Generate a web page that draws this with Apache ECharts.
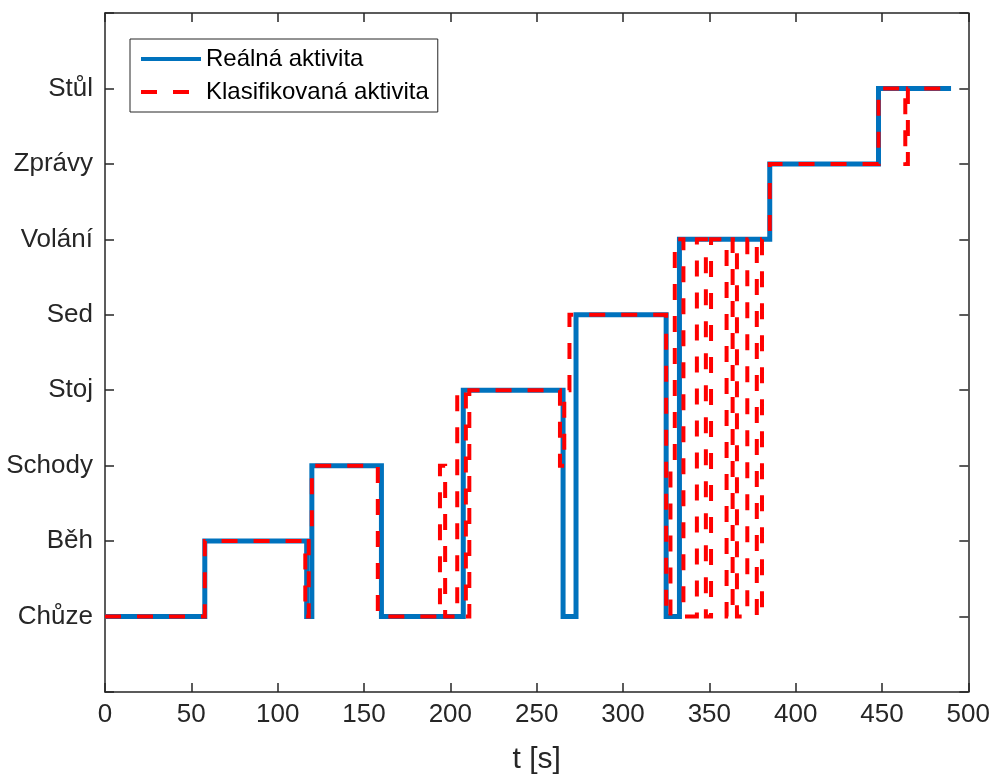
<!DOCTYPE html>
<html>
<head>
<meta charset="utf-8">
<title>Aktivity</title>
<script src="https://cdn.jsdelivr.net/npm/echarts@6/dist/echarts.min.js"></script>
<style>
  html, body { margin: 0; padding: 0; background: #fff; overflow: hidden; }
  #chart { width: 993px; height: 780px; }
</style>
</head>
<body>
<div id="chart"></div>
<script>
// activity names, index = level on the y axis
var activities = ['Chůze', 'Běh', 'Schody', 'Stoj', 'Sed', 'Volání', 'Zprávy', 'Stůl']

// real activity: time of change [s] and new level
var realTimes = [0, 57.8, 116.8, 119.8, 160.1, 207.5, 265.3, 272.8, 325, 332.7, 385, 448, 490]
var realLevels = [0, 1, 0, 2, 0, 3, 0, 4, 0, 5, 6, 7, 7]

// classified activity
var classTimes = [0, 57.8, 116, 118, 119.8, 158, 194, 197, 204, 209, 211, 263.5, 266, 269,
  325, 327.5, 330, 335, 342.8, 348, 351, 360, 363.5, 366, 372, 377.5, 380.5, 385,
  448, 463.5, 465, 490]
var classLevels = [0, 1, 0, 1, 2, 0, 2, 0, 3, 0, 3, 2, 3, 4,
  0, 2, 5, 0, 5, 0, 5, 0, 5, 0, 5, 0, 5, 6,
  7, 6, 7, 7]

var xTicks = { min: 0, max: 500, interval: 50 }

function pairs (times, levels) {
  return times.map((t, i) => [t, levels[i]])
}

var axisColor = '#262626'
var font = 'Liberation Sans, Arial, Helvetica, sans-serif'

var chart = echarts.init(document.getElementById('chart'), null, { renderer: 'canvas', width: 993, height: 780 })

var tickStyle = { show: true, inside: true, length: 9, lineStyle: { color: axisColor, width: 1.5 } }
var lineStyle = { show: true, onZero: false, lineStyle: { color: axisColor, width: 1.5 } }

chart.setOption({
  animation: false,
  backgroundColor: '#fff',
  grid: { left: 105, top: 13, width: 866, height: 692, containLabel: false },
  legend: {
    left: 130,
    top: 39,
    orient: 'vertical',
    itemWidth: 60,
    itemHeight: 14,
    itemGap: 9,
    padding: [8, 9, 8, 9],
    borderColor: axisColor,
    borderWidth: 1,
    backgroundColor: '#fff',
    itemStyle: { opacity: 0 },
    lineStyle: { width: 4 },
    textStyle: { fontFamily: font, fontSize: 24, color: '#000', lineHeight: 24 },
    data: ['Reálná aktivita', 'Klasifikovaná aktivita']
  },
  xAxis: [{
    type: 'value',
    min: xTicks.min,
    max: xTicks.max,
    interval: xTicks.interval,
    name: 't [s]',
    nameLocation: 'middle',
    nameGap: 53,
    nameTextStyle: { fontFamily: font, fontSize: 30, color: axisColor },
    axisLine: lineStyle,
    axisTick: tickStyle,
    splitLine: { show: false },
    axisLabel: { fontFamily: font, fontSize: 26, color: axisColor, margin: 10 }
  }, {
    type: 'value',
    position: 'top',
    min: xTicks.min,
    max: xTicks.max,
    interval: xTicks.interval,
    axisLine: lineStyle,
    axisTick: tickStyle,
    splitLine: { show: false },
    axisLabel: { show: false }
  }],
  yAxis: [{
    type: 'value',
    min: -1,
    max: 8,
    interval: 1,
    axisLine: lineStyle,
    axisTick: tickStyle,
    splitLine: { show: false },
    axisLabel: {
      fontFamily: font,
      fontSize: 26,
      color: axisColor,
      margin: 12,
      formatter: v => activities[v] || ''
    }
  }, {
    type: 'value',
    position: 'right',
    min: -1,
    max: 8,
    interval: 1,
    axisLine: lineStyle,
    axisTick: tickStyle,
    splitLine: { show: false },
    axisLabel: { show: false }
  }],
  series: [{
    name: 'Reálná aktivita',
    type: 'line',
    step: 'end',
    symbol: 'none',
    color: '#0072BD',
    lineStyle: { color: '#0072BD', width: 5, cap: 'butt', join: 'miter' },
    data: pairs(realTimes, realLevels),
    z: 2
  }, {
    name: 'Klasifikovaná aktivita',
    type: 'line',
    step: 'end',
    symbol: 'none',
    color: '#FF0000',
    lineStyle: { color: '#FF0000', width: 4, type: [16, 16], cap: 'butt', join: 'miter' },
    data: pairs(classTimes, classLevels),
    z: 3
  }]
})
</script>
</body>
</html>
